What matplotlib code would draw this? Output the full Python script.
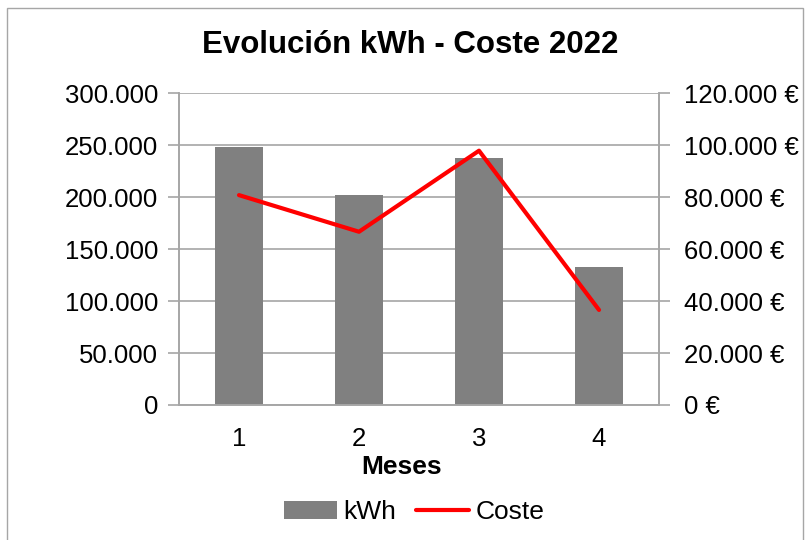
import matplotlib
matplotlib.use("Agg")
import matplotlib.pyplot as plt
from matplotlib.ticker import FuncFormatter, MultipleLocator
from matplotlib.patches import Rectangle

# datos
meses = [1, 2, 3, 4]
kwh = [248000, 202500, 238000, 132500]
coste = [80800, 66700, 97900, 36600]

plt.rcParams['font.family'] = ['Liberation Sans', 'DejaVu Sans']

GRIS = '#a6a6a6'


def miles(v, pos=None):
    return f"{int(round(v)):,}".replace(",", ".")


fig = plt.figure(figsize=(8.06, 5.4), dpi=100)
fig.patches.append(Rectangle((7 / 806, -0.02), 796 / 806, 1 - 8 / 540 + 0.02,
                             transform=fig.transFigure, fill=False,
                             edgecolor=GRIS, lw=1))

ax = fig.add_axes([179 / 806, 1 - 405 / 540, 480 / 806, 311.7 / 540])
ax2 = ax.twinx()

barras = ax.bar(meses, kwh, width=0.4, color='#808080', label='kWh', zorder=2)
linea, = ax2.plot(meses, coste, color='#ff0000', lw=3, label='Coste',
                  solid_capstyle='round', zorder=3)

ax.set_xlim(0.5, 4.5)
ax.set_ylim(0, 300000)
ax2.set_ylim(0, 120000)
ax.yaxis.set_major_locator(MultipleLocator(50000))
ax2.yaxis.set_major_locator(MultipleLocator(20000))
ax.yaxis.set_major_formatter(FuncFormatter(miles))
ax2.yaxis.set_major_formatter(FuncFormatter(lambda v, p: miles(v) + " €"))

ax.grid(axis='y', color=GRIS, lw=1.2, zorder=0)
ax.set_axisbelow(True)
for a in (ax, ax2):
    for s in a.spines.values():
        s.set_color(GRIS)
        s.set_linewidth(1.2)
    a.spines['top'].set_visible(False)

ax.set_xticks(meses)
ax.tick_params(axis='x', length=0, pad=16, labelsize=18.5)
ax.tick_params(axis='y', length=8, width=1.2, color=GRIS, pad=7, labelsize=18.5)
ax2.tick_params(axis='y', length=8, width=1.2, color=GRIS, pad=10, labelsize=18.5)

ax.set_xlabel('Meses', fontsize=19, fontweight='bold')
ax.xaxis.set_label_coords((402 - 179) / 480, -(455 - 405) / 311.7)
fig.text(410 / 806, 1 - 45 / 540, 'Evolución kWh - Coste 2022', ha='center',
         va='center', fontsize=22.5, fontweight='bold')

fig.legend(handles=[barras, linea], labels=['kWh', 'Coste'], loc='center',
           bbox_to_anchor=(414 / 806, 1 - 512 / 540), ncol=2, frameon=False,
           fontsize=19, handlelength=2.0, handletextpad=0.25, columnspacing=0.75)

fig.savefig('out.png', dpi=100)
